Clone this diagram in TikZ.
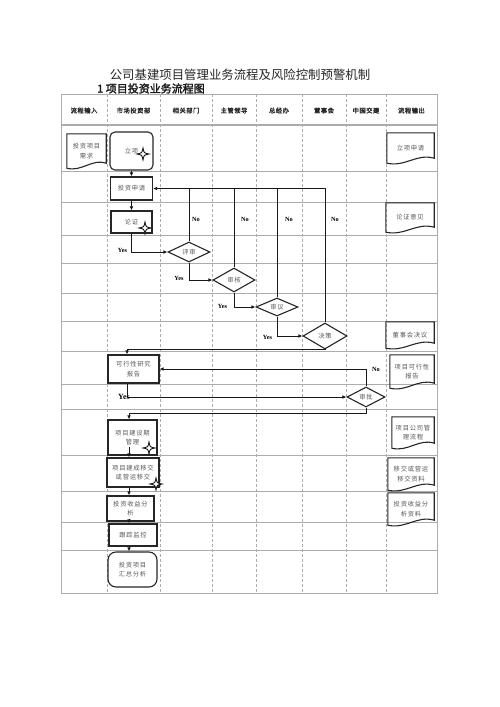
\documentclass[tikz,border=0pt]{standalone}
\usepackage{fontspec}
\newfontfamily\cjk{Noto Sans CJK SC}
\newfontfamily\cjkbold[FakeBold=2]{Noto Sans CJK SC}
\newfontfamily\cjkhead[FakeBold=1.5,LetterSpace=8]{Noto Sans CJK SC}
\newfontfamily\cjkbox[LetterSpace=12]{Noto Sans CJK SC}
\newfontfamily\labfont{Liberation Serif}
\usetikzlibrary{arrows.meta,calc,shapes.geometric}
\tikzset{
  gridline/.style={draw=gray!65, line width=0.6pt},
  laneline/.style={draw=gray!65, line width=0.6pt, dash pattern=on 3pt off 2pt},
  headtext/.style={font=\cjkhead\fontsize{6.3}{7}\selectfont, text=black!85, inner sep=0pt},
  boxtext/.style={font=\cjkbox\fontsize{6.3}{9.5}\selectfont, text=black!65, align=center},
  procbox/.style={boxtext, draw=black!85, line width=1.1pt, fill=white, inner sep=0pt},
  docbox/.style={boxtext, draw=none, inner sep=0pt},
  doclinestyle/.style={draw=black!85, line width=1.1pt},
  decbox/.style={boxtext, diamond, draw=black!85, line width=1.1pt, fill=white, inner sep=0pt, aspect=2},
  flow/.style={draw=black!90, line width=1pt, -{Latex[length=4pt,width=3.6pt]}},
  plainline/.style={draw=black!90, line width=1pt},
  yeslab/.style={font=\labfont\bfseries\fontsize{6.3}{7}\selectfont, inner sep=0pt},
  starline/.style={draw=black!90, line width=0.9pt, fill=white},
}
\newcommand\docoutline[1]{%
  \draw[doclinestyle] (#1.north west) -- (#1.north east) -- ($(#1.south east)+(0,-5)$)
    .. controls ($(#1.south)+(6,-10)$) and ($(#1.south)+(-5,4)$) .. (#1.south west) -- cycle;}
\newcommand\fourstar[1]{%
  \draw[starline] ($(#1)+(0,-6)$) .. controls ($(#1)+(1,-1)$) .. ($(#1)+(6,0)$)
    .. controls ($(#1)+(1,1)$) .. ($(#1)+(0,6)$)
    .. controls ($(#1)+(-1,1)$) .. ($(#1)+(-6,0)$)
    .. controls ($(#1)+(-1,-1)$) .. cycle;}
\begin{document}
\begin{tikzpicture}[x=1pt,y=-1pt]
\useasboundingbox (0,0) rectangle (500,707);
\fill[white] (0,0) rectangle (500,707);

% titles
\node[font=\cjk\fontsize{12.4}{14}\selectfont, text=black!85] (title) at (240,75) {公司基建项目管理业务流程及风险控制预警机制};
\node[anchor=west, font=\cjkbold\fontsize{11}{12}\selectfont, text=black!90, inner sep=0pt] (subtitle) at (97,88.5) {1 项目投资业务流程图};

% grid
\foreach \yy in {171,202,235,263,293,321,351,384,409,455,491,522,550}
  \draw[gridline] (61,\yy) -- (437,\yy);
\foreach \xx in {107,160,212,256,302,346,386}
  \draw[laneline] (\xx,94) -- (\xx,593);
\draw[gridline] (61,94) rectangle (437,593);
\draw[draw=gray!65, line width=1.8pt] (61,125) -- (437,125);

% header
\node[headtext] (h1) at (84,110.5) {流程输入};
\node[headtext] (h2) at (133.5,110.5) {市场投资部};
\node[headtext] (h3) at (186,110.5) {相关部门};
\node[headtext] (h4) at (234,110.5) {主管领导};
\node[headtext] (h5) at (279,110.5) {总经办};
\node[headtext] (h6) at (324,110.5) {董事会};
\node[headtext] (h7) at (366,110.5) {中国交建};
\node[headtext] (h8) at (411.5,110.5) {流程输出};

% process nodes
\node[procbox, rounded corners=5pt, minimum width=43pt, minimum height=38pt] (lixiang) at (131.5,151) {立项};
\node[procbox, minimum width=42pt, minimum height=23pt] (shenqing) at (131.5,188.5) {投资申请};
\node[procbox, minimum width=41pt, minimum height=22pt] (lunzheng) at (131.5,222) {论证};
\node[decbox, minimum width=42pt, minimum height=20pt] (d1) at (189,252) {评审};
\node[decbox, minimum width=42pt, minimum height=24pt] (d2) at (234,280) {审核};
\node[decbox, minimum width=42pt, minimum height=18pt] (d3) at (277,307) {审议};
\node[decbox, minimum width=44pt, minimum height=26pt] (d4) at (325,336) {决策};
\node[procbox, minimum width=51pt, minimum height=28pt] (kexing) at (133.5,369) {可行性研究\\报告};
\node[decbox, minimum width=38pt, minimum height=20pt] (d5) at (366,397) {审批};
\node[procbox, minimum width=49pt, minimum height=35pt] (jianshe) at (132.5,437.5) {项目建设期\\管理};
\node[procbox, minimum width=52pt, minimum height=29pt] (yijiao) at (133,472.5) {项目建成移交\\或营运移交};
\node[procbox, minimum width=47pt, minimum height=25pt] (shouyi) at (130.5,508.5) {投资收益分\\析};
\node[procbox, minimum width=48pt, minimum height=22pt] (genzong) at (133,535) {跟踪监控};
\node[procbox, rounded corners=8pt, minimum width=49pt, minimum height=35pt] (huizong) at (132.5,569.5) {投资项目\\汇总分析};

% documents
\node[docbox, minimum width=39pt, minimum height=34pt] (in1) at (86.5,151) {投资项目\\需求};
\node[docbox, minimum width=47pt, minimum height=30pt] (out1) at (410.5,148) {立项申请};
\node[docbox, minimum width=48pt, minimum height=29pt] (out2) at (410,217.5) {论证意见};
\node[docbox, minimum width=48pt, minimum height=26pt] (out3) at (410,335) {董事会决议};
\node[docbox, minimum width=44pt, minimum height=33pt] (out4) at (412,371.5) {项目可行性\\报告};
\node[docbox, minimum width=42pt, minimum height=31pt] (out5) at (413,432.5) {项目公司管\\理流程};
\node[docbox, minimum width=46pt, minimum height=32pt] (out6) at (411,474) {移交或营运\\移交资料};
\node[docbox, minimum width=46pt, minimum height=32pt] (out7) at (411,509) {投资收益分\\析资料};
\foreach \dn in {in1,out1,out2,out3,out4,out5,out6,out7} {\docoutline{\dn}}

% connectors
\draw[flow] (lixiang.south) -- (lixiang.south |- shenqing.north);
\draw[flow] (shenqing.south) -- (shenqing.south |- lunzheng.north);
\draw[flow] (d4.north) |- (shenqing.east);
\draw[plainline] (d1.north) -- (d1.north |- shenqing.east);
\draw[plainline] (d2.north) -- (d2.north |- shenqing.east);
\draw[plainline] (d3.north) -- (d3.north |- shenqing.east);
\draw[flow] (lunzheng.south) |- (d1.west);
\draw[flow] (d1.south) |- (d2.west);
\draw[flow] (d2.south) |- (d3.west);
\draw[flow] (d3.south) |- (d4.west);
\coordinate (c1) at (127,349);
\draw[flow] (d4.south) |- (c1) -- (c1 |- kexing.north);
\draw[flow] (c1 |- kexing.south) |- (d5.west);
\draw[flow] (d5.north) |- (kexing.east);
\coordinate (c2) at (129,413);
\draw[flow] (d5.south) |- (c2) -- (c2 |- jianshe.north);
\draw[flow] ($(c2 |- jianshe.south)+(0,-9)$) -- (c2 |- yijiao.north);
\draw[flow] (c2 |- yijiao.south) -- (c2 |- shouyi.north);
\draw[flow] ($(c2 |- shouyi.south)+(0,-3)$) -- (c2 |- genzong.north);
\draw[flow] (c2 |- genzong.south) -- (c2 |- huizong.north);

% labels
\node[yeslab] (no1) at (196,219) {No};
\node[yeslab] (no2) at (245,219) {No};
\node[yeslab] (no3) at (289,219) {No};
\node[yeslab] (no4) at (335,219) {No};
\node[yeslab] (no5) at (376,369) {No};
\node[yeslab] (yes1) at (122.5,250) {Yes};
\node[yeslab] (yes2) at (179,278) {Yes};
\node[yeslab] (yes3) at (222.5,306) {Yes};
\node[yeslab] (yes4) at (267.5,337) {Yes};
\node[yeslab, font=\labfont\bfseries\fontsize{8}{9}\selectfont] (yes5) at (124,397) {Yes};

% stars
\fourstar{143,154}
\fourstar{145,228}
\fourstar{149,448}
\fourstar{156,484}
\end{tikzpicture}
\end{document}
